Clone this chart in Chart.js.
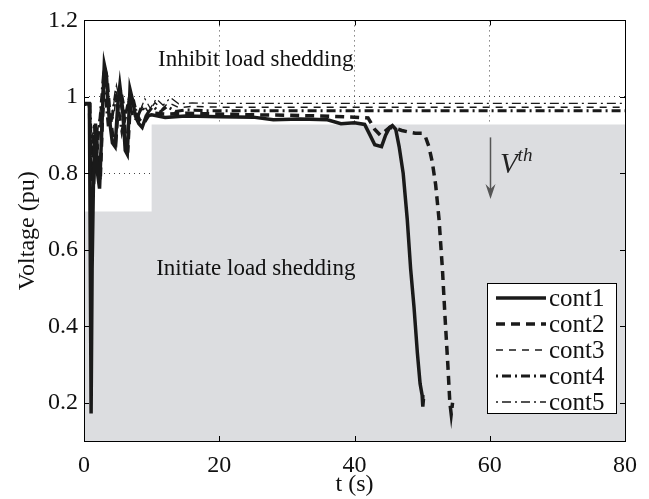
<!DOCTYPE html>
<html>
<head>
<meta charset="utf-8">
<script src="https://cdn.jsdelivr.net/npm/chart.js@4.4.0/dist/chart.umd.min.js"></script>
<style>
  html, body { margin: 0; padding: 0; background: #fff; }
  #wrap { width: 649px; height: 499px; }
</style>
</head>
<body>
<div id="wrap"><canvas id="myChart"></canvas></div>
<script>
// оси
const xTicks = [0, 20, 40, 60, 80];
const yTicks = [0.2, 0.4, 0.6, 0.8, 1, 1.2];
const seriesNames = ['cont1', 'cont2', 'cont3', 'cont4', 'cont5'];

// cont1
const tCont1 = [0, 0.8, 0.95, 1.05, 1.2, 1.4, 1.7, 2.0, 2.3, 2.6, 3.0, 3.3, 3.7, 4.2, 4.6, 5.0, 5.3, 5.7, 6.1, 6.4, 6.8, 7.2, 7.6, 8.1, 8.6, 9.2, 10, 12, 15, 20, 25, 28, 32, 36, 38, 40, 41.5, 42.3, 43, 44, 44.6, 45.2, 45.6, 46.1, 46.6, 47.2, 47.8, 48.3, 48.8, 49.3, 49.7, 50.0, 50.1, 50.2];
const vCont1 = [0.982, 0.982, 0.5, 0.172, 0.55, 0.78, 0.93, 0.8, 0.76, 0.9, 1.085, 1.06, 0.95, 0.88, 0.87, 0.98, 1.03, 0.97, 0.86, 0.85, 1.02, 0.99, 0.95, 0.93, 0.92, 0.95, 0.953, 0.946, 0.95, 0.948, 0.947, 0.94, 0.942, 0.94, 0.93, 0.932, 0.928, 0.9, 0.875, 0.87, 0.9, 0.92, 0.925, 0.915, 0.87, 0.8, 0.68, 0.55, 0.45, 0.33, 0.25, 0.22, 0.19, 0.21];

// cont2
const tCont2 = [0, 0.8, 0.95, 1.05, 1.2, 1.5, 1.8, 2.1, 2.4, 2.7, 3.1, 3.4, 3.8, 4.3, 4.7, 5.1, 5.4, 5.8, 6.2, 6.5, 6.9, 7.3, 7.7, 8.2, 8.8, 9.5, 10, 12, 15, 20, 25, 30, 35, 40, 42, 43, 43.8, 44.5, 45.2, 46, 47, 48, 49, 50, 50.5, 51, 51.5, 52, 52.5, 53, 53.4, 53.8, 54.1, 54.3, 54.5];
const vCont2 = [0.982, 0.982, 0.85, 0.78, 0.82, 0.8, 0.92, 0.82, 0.78, 0.93, 1.07, 1.05, 0.96, 0.89, 0.88, 0.99, 1.02, 0.98, 0.88, 0.87, 1.0, 0.99, 0.96, 0.94, 0.93, 0.95, 0.958, 0.955, 0.957, 0.955, 0.953, 0.952, 0.95, 0.947, 0.945, 0.915, 0.9, 0.91, 0.92, 0.918, 0.912, 0.908, 0.905, 0.905, 0.895, 0.87, 0.83, 0.77, 0.68, 0.55, 0.42, 0.3, 0.2, 0.17, 0.2];

// cont3
const tCont3 = [0, 0.9, 1.1, 1.4, 1.8, 2.2, 2.6, 3.0, 3.4, 3.9, 4.4, 4.9, 5.4, 5.9, 6.4, 6.9, 7.5, 8.1, 8.8, 9.5, 10.5, 11.5, 12.5, 14, 16, 20, 30, 40, 50, 60, 70, 80];
const vCont3 = [0.985, 0.985, 0.82, 0.88, 0.8, 0.9, 0.97, 1.06, 1.02, 0.93, 0.95, 1.02, 0.99, 0.92, 0.96, 1.0, 0.96, 0.95, 0.98, 0.96, 0.985, 0.968, 0.985, 0.972, 0.975, 0.973, 0.973, 0.973, 0.973, 0.973, 0.973, 0.973];

// cont4
const tCont4 = [0, 0.9, 1.1, 1.3, 1.6, 2.0, 2.4, 2.8, 3.2, 3.6, 4.1, 4.6, 5.1, 5.6, 6.1, 6.6, 7.2, 7.8, 8.5, 9.3, 10.2, 11.2, 12.3, 13.5, 15, 18, 25, 35, 45, 55, 65, 80];
const vCont4 = [0.98, 0.98, 0.84, 0.9, 0.82, 0.88, 0.95, 1.04, 1.0, 0.92, 0.94, 1.0, 0.97, 0.91, 0.95, 0.99, 0.95, 0.94, 0.975, 0.955, 0.975, 0.96, 0.975, 0.962, 0.966, 0.964, 0.964, 0.964, 0.964, 0.964, 0.964, 0.964];

// cont5
const tCont5 = [0, 0.9, 1.1, 1.4, 1.7, 2.1, 2.5, 2.9, 3.3, 3.8, 4.3, 4.8, 5.3, 5.8, 6.3, 6.9, 7.5, 8.2, 9.0, 9.8, 10.7, 11.7, 12.8, 14, 16, 20, 30, 40, 50, 60, 70, 80];
const vCont5 = [0.985, 0.985, 0.86, 0.93, 0.84, 0.92, 0.98, 1.05, 1.01, 0.94, 0.97, 1.03, 0.99, 0.93, 0.97, 1.01, 0.97, 0.96, 0.995, 0.97, 0.995, 0.978, 0.998, 0.982, 0.984, 0.983, 0.983, 0.983, 0.983, 0.983, 0.983, 0.983];

// зона отключения нагрузки (V^th)
const zoneT = [0, 10, 10, 80];
const zoneV = [0.7, 0.7, 0.928, 0.928];

const seriesT = [tCont1, tCont2, tCont3, tCont4, tCont5];
const seriesV = [vCont1, vCont2, vCont3, vCont4, vCont5];
const lineStyles = [
    { width: 3.5, dash: [] },
    { width: 3.5, dash: [9, 6] },
    { width: 1.5, dash: [7, 6] },
    { width: 3, dash: [2, 4, 9, 4] },
    { width: 1.3, dash: [2, 4, 9, 4] }
];

const toPoints = (ts, vs) => ts.map((t, i) => ({ x: t, y: vs[i] }));
const serif = "'Liberation Serif', 'DejaVu Serif', serif";
const ink = '#1a1a1a';

const datasets = seriesNames.map((name, i) => ({
    label: name,
    data: toPoints(seriesT[i], seriesV[i]),
    borderColor: ink,
    borderWidth: lineStyles[i].width,
    borderDash: lineStyles[i].dash,
    pointRadius: 0,
    tension: 0,
    fill: false
}));
datasets.push({
    label: 'zone',
    data: toPoints(zoneT, zoneV),
    borderWidth: 0,
    backgroundColor: '#dcdde0',
    pointRadius: 0,
    tension: 0,
    fill: 'start'
});

// рамка, засечки, подписи и легенда
const decorPlugin = {
    id: 'decor',
    afterDatasetsDraw(chart) {
        const ctx = chart.ctx;
        const a = chart.chartArea;
        const xs = chart.scales.x, ys = chart.scales.y;
        ctx.save();

        // засечки внутрь
        ctx.strokeStyle = '#000';
        ctx.lineWidth = 1;
        ctx.setLineDash([]);
        ctx.beginPath();
        xTicks.forEach(t => {
            const px = Math.round(xs.getPixelForValue(t)) + 0.5;
            ctx.moveTo(px, a.bottom); ctx.lineTo(px, a.bottom - 5);
            ctx.moveTo(px, a.top); ctx.lineTo(px, a.top + 5);
        });
        yTicks.forEach(v => {
            const py = Math.round(ys.getPixelForValue(v)) + 0.5;
            ctx.moveTo(a.left, py); ctx.lineTo(a.left + 5, py);
            ctx.moveTo(a.right, py); ctx.lineTo(a.right - 5, py);
        });
        ctx.stroke();
        ctx.strokeRect(Math.round(a.left) + 0.5, Math.round(a.top) + 0.5,
            Math.round(a.right - a.left), Math.round(a.bottom - a.top));

        // подписи зон
        ctx.fillStyle = '#111';
        ctx.font = '23px ' + serif;
        ctx.textAlign = 'center';
        ctx.textBaseline = 'middle';
        ctx.fillText('Inhibit load shedding', xs.getPixelForValue(25.4), ys.getPixelForValue(1.096));
        ctx.fillText('Initiate load shedding', xs.getPixelForValue(25.4), ys.getPixelForValue(0.551));

        // стрелка V^th
        const ax = Math.round(xs.getPixelForValue(60)) + 0.5;
        const y0 = ys.getPixelForValue(0.894), y1 = ys.getPixelForValue(0.733);
        ctx.strokeStyle = '#555';
        ctx.fillStyle = '#555';
        ctx.lineWidth = 1.5;
        ctx.beginPath();
        ctx.moveTo(ax, y0); ctx.lineTo(ax, y1 - 4);
        ctx.stroke();
        ctx.beginPath();
        ctx.moveTo(ax, y1);
        ctx.lineTo(ax - 5, y1 - 15);
        ctx.lineTo(ax, y1 - 10);
        ctx.lineTo(ax + 5, y1 - 15);
        ctx.closePath();
        ctx.fill();

        ctx.fillStyle = '#222';
        ctx.textAlign = 'left';
        ctx.textBaseline = 'alphabetic';
        ctx.font = 'italic 29px ' + serif;
        const vx = xs.getPixelForValue(61.5), vy = ys.getPixelForValue(0.8);
        ctx.fillText('V', vx, vy);
        const vw = ctx.measureText('V').width;
        ctx.font = 'italic 19px ' + serif;
        ctx.fillText('th', vx + vw, vy - 12);

        // легенда
        const lx = 487, ly = 283, lw = 129, lh = 130;
        ctx.fillStyle = '#fff';
        ctx.fillRect(lx, ly, lw, lh);
        ctx.strokeStyle = '#000';
        ctx.lineWidth = 1;
        ctx.strokeRect(lx + 0.5, ly + 0.5, lw, lh);
        ctx.font = '25px ' + serif;
        ctx.textBaseline = 'middle';
        seriesNames.forEach((name, i) => {
            const ry = ly + 15 + i * 26;
            ctx.strokeStyle = ink;
            ctx.lineWidth = lineStyles[i].width;
            ctx.setLineDash(lineStyles[i].dash);
            ctx.beginPath();
            ctx.moveTo(lx + 9, ry); ctx.lineTo(lx + 59, ry);
            ctx.stroke();
            ctx.setLineDash([]);
            ctx.fillStyle = '#111';
            ctx.fillText(name, lx + 62, ry + 1);
        });
        ctx.restore();
    }
};

const ctx = document.getElementById('myChart').getContext('2d');

const myChart = new Chart(ctx, {
    type: 'line',
    data: { datasets: datasets },
    options: {
        responsive: true,
        maintainAspectRatio: false,
        animation: false,
        layout: { padding: { left: 0, right: 24, top: 17, bottom: 0 } },
        plugins: {
            legend: { display: false },
            tooltip: { enabled: false }
        },
        scales: {
            x: {
                type: 'linear',
                min: 0,
                max: 80,
                afterBuildTicks: s => { s.ticks = xTicks.map(v => ({ value: v })); },
                afterFit: s => { s.height = 58; },
                grid: { color: '#444', lineWidth: 1, drawTicks: false },
                border: { display: false, dash: [1, 4] },
                ticks: {
                    padding: 10,
                    color: '#111',
                    font: { family: serif, size: 24 },
                    maxRotation: 0,
                    callback: v => String(v)
                },
                title: {
                    display: true,
                    text: 't (s)',
                    color: '#111',
                    font: { family: serif, size: 24 },
                    padding: { top: 4, bottom: 0 }
                }
            },
            y: {
                type: 'linear',
                min: 0.1,
                max: 1.2,
                afterBuildTicks: s => { s.ticks = yTicks.map(v => ({ value: v })); },
                afterFit: s => { s.width = 84; },
                grid: { color: '#444', lineWidth: 1, drawTicks: false },
                border: { display: false, dash: [1, 4] },
                ticks: {
                    padding: 6,
                    color: '#111',
                    font: { family: serif, size: 24 },
                    callback: v => String(+v.toFixed(1))
                },
                title: {
                    display: true,
                    text: 'Voltage (pu)',
                    color: '#111',
                    font: { family: serif, size: 24 },
                    padding: { top: 13, bottom: 0 }
                }
            }
        }
    },
    plugins: [decorPlugin]
});
</script>
</body>
</html>
